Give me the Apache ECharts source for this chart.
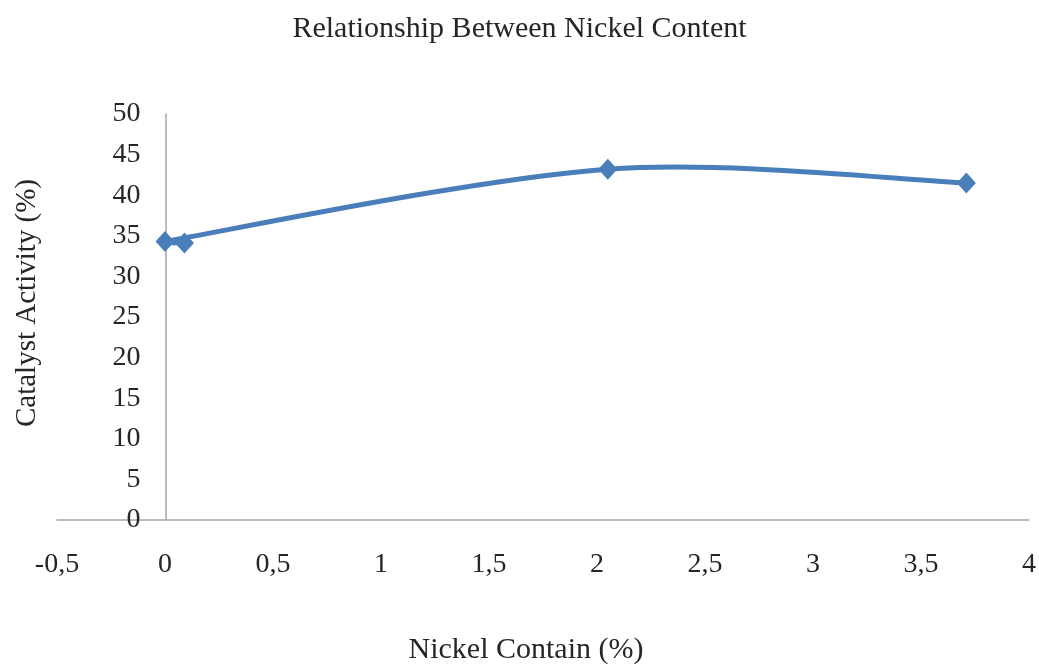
<!DOCTYPE html>
<html>
<head>
<meta charset="utf-8">
<script src="https://cdn.jsdelivr.net/npm/echarts@6/dist/echarts.min.js"></script>
<style>
  html, body { margin: 0; padding: 0; background: #fff; }
  #chart { width: 1039px; height: 664px; }
</style>
</head>
<body>
<div id="chart"></div>
<script>
// Nickel content (%) and measured catalyst activity (%), in measurement order
const nickelContent = [0.09, 0, 2.05, 3.71];
const catalystActivity = [34.1, 34.3, 43.2, 41.5];

const chartTitle = 'Relationship Between Nickel Content';
const xAxisName = 'Nickel Contain (%)';
const yAxisName = 'Catalyst Activity (%)';

const serif = '"Liberation Serif", "Times New Roman", serif';
const blue = '#4a7ebb';
const textColor = '#262626';

const points = nickelContent.map((x, i) => [x, catalystActivity[i]]);

// Control arm for a Bézier end: tension 1/6 of the neighbour chord,
// limited to a third of the segment so short segments do not overshoot.
function arm(from, to, segLen) {
  const f = 1 / 6;
  let dx = (to[0] - from[0]) * f;
  let dy = (to[1] - from[1]) * f;
  const len = Math.hypot(dx, dy);
  const maxLen = segLen / 3;
  if (len > maxLen && len > 0) {
    dx *= maxLen / len;
    dy *= maxLen / len;
  }
  return [dx, dy];
}

// Smoothed connector drawn from the axis-converted pixel positions.
function renderSmoothLine(params, api) {
  if (params.dataIndex !== 0) return null;
  const px = points.map(p => api.coord(p));
  const n = px.length;
  const children = [];
  for (let i = 0; i < n - 1; i++) {
    const p0 = px[Math.max(i - 1, 0)];
    const p1 = px[i];
    const p2 = px[i + 1];
    const p3 = px[Math.min(i + 2, n - 1)];
    const segLen = Math.hypot(p2[0] - p1[0], p2[1] - p1[1]);
    const a1 = arm(p0, p2, segLen);
    const a2 = arm(p1, p3, segLen);
    children.push({
      type: 'bezierCurve',
      shape: {
        x1: p1[0], y1: p1[1],
        cpx1: p1[0] + a1[0], cpy1: p1[1] + a1[1],
        cpx2: p2[0] - a2[0], cpy2: p2[1] - a2[1],
        x2: p2[0], y2: p2[1]
      },
      style: { stroke: blue, lineWidth: 5, fill: null, lineCap: 'round' }
    });
  }
  return { type: 'group', children: children };
}

const chart = echarts.init(document.getElementById('chart'));
chart.setOption({
  animation: false,
  backgroundColor: '#ffffff',
  grid: { left: 57, right: 8, top: 114, bottom: 144, containLabel: false },
  xAxis: {
    type: 'value',
    min: -0.5,
    max: 4,
    interval: 0.5,
    axisLine: { onZero: true, lineStyle: { color: '#a6a6a6', width: 1.5 } },
    axisTick: { show: false },
    splitLine: { show: false },
    axisLabel: {
      margin: 31,
      fontFamily: serif,
      fontSize: 28,
      color: textColor,
      formatter: v => String(v).replace('.', ',')
    }
  },
  yAxis: {
    type: 'value',
    min: 0,
    max: 50,
    interval: 5,
    // the vertical axis sits at x = 0 of the horizontal axis
    offset: -108.5,
    axisLine: { show: true, onZero: false, lineStyle: { color: '#a6a6a6', width: 1.5 } },
    axisTick: { show: false },
    splitLine: { show: false },
    axisLabel: {
      margin: 25,
      fontFamily: serif,
      fontSize: 28,
      color: textColor
    }
  },
  graphic: [
    {
      type: 'text',
      left: 'center',
      top: 14,
      style: { text: chartTitle, font: '30px ' + serif, fill: textColor }
    },
    {
      type: 'text',
      x: 526,
      y: 650,
      style: { text: xAxisName, font: '30px ' + serif, fill: textColor, align: 'center', verticalAlign: 'middle' }
    },
    {
      type: 'text',
      x: 27,
      y: 303,
      rotation: Math.PI / 2,
      style: { text: yAxisName, font: '29px ' + serif, fill: textColor, align: 'center', verticalAlign: 'middle' }
    }
  ],
  series: [
    {
      type: 'custom',
      data: points,
      encode: { x: 0, y: 1 },
      renderItem: renderSmoothLine,
      z: 2
    },
    {
      type: 'scatter',
      data: points,
      symbol: 'diamond',
      symbolSize: [19, 21],
      itemStyle: { color: blue, opacity: 1 },
      z: 3
    }
  ]
});
</script>
</body>
</html>
